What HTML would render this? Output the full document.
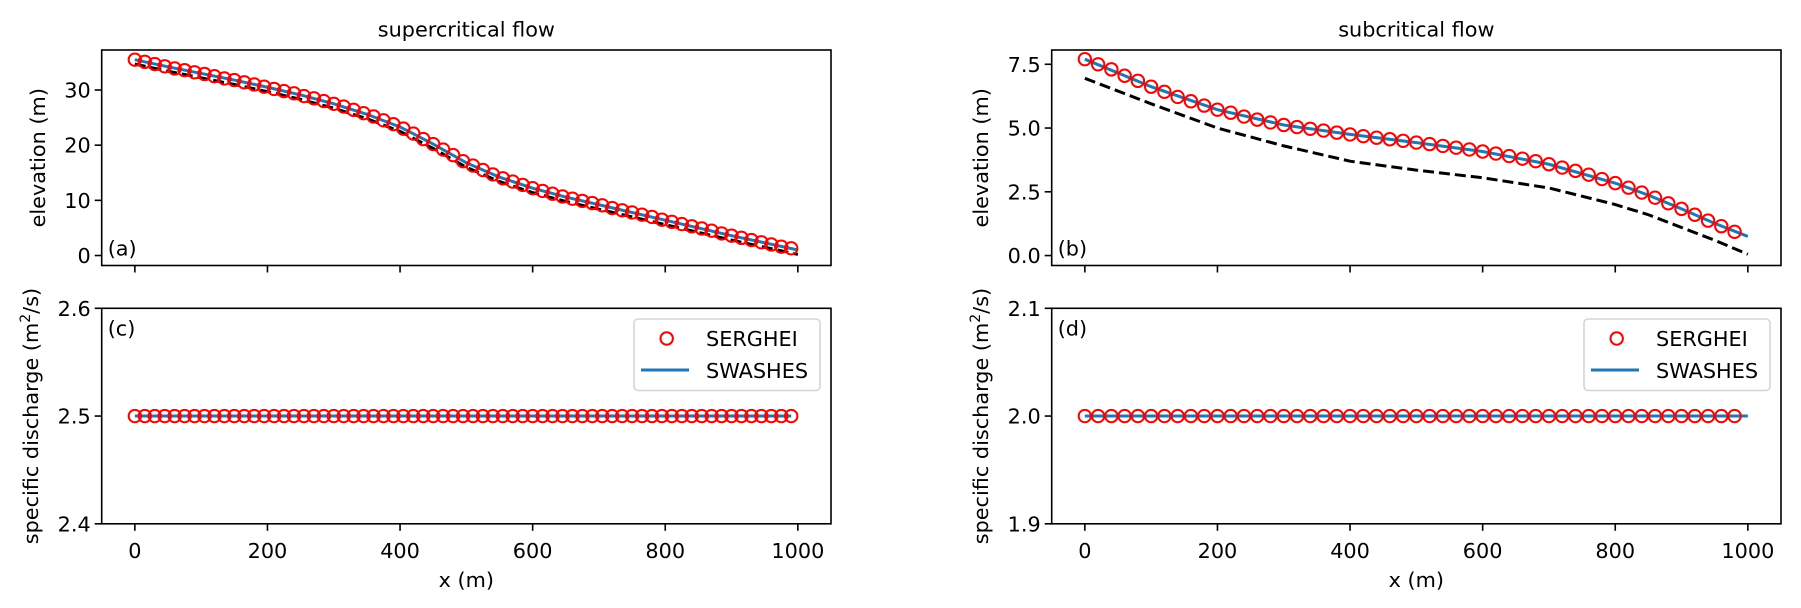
<!DOCTYPE html>
<html><head><meta charset="utf-8"><style>
html,body{margin:0;padding:0;background:#fff;}
svg{display:block;font-family:"DejaVu Sans","Liberation Sans",sans-serif;}
</style></head><body>
<svg id="fig" width="1801" height="608" viewBox="0 0 1801 608" xmlns="http://www.w3.org/2000/svg"></svg>
<script>
// ---- data ----
const superSergheiX = Array.from({length:67},(_,i)=>i*15);
const superSergheiH = [35.5,35.1,34.7,34.3,33.9,33.6,33.2,32.9,32.5,32.1,31.8,31.4,31.0,30.6,30.2,29.8,29.4,28.9,28.5,28.0,27.5,27.0,26.4,25.8,25.2,24.5,23.8,23.0,22.1,21.1,20.2,19.2,18.2,17.1,16.3,15.5,14.7,14.0,13.4,12.8,12.2,11.7,11.2,10.7,10.3,9.9,9.5,9.1,8.6,8.2,7.8,7.4,7.0,6.5,6.1,5.7,5.3,4.9,4.5,4.0,3.6,3.2,2.8,2.4,2.0,1.6,1.3];
const lineX = [0,50,100,150,200,250,300,350,400,450,500,550,600,650,700,750,800,850,900,950,1000];
const superSwashesH = [35.5,34.2,33.0,31.8,30.5,29.1,27.5,25.6,23.3,20.2,16.8,14.2,12.2,10.6,9.2,7.8,6.4,5.0,3.6,2.3,1.0];
const superBed = [34.7,33.4,32.2,31.0,29.7,28.3,26.7,24.8,22.5,19.4,16.0,13.4,11.4,9.8,8.4,7.0,5.6,4.2,2.8,1.5,0.2];
const subSergheiX = Array.from({length:50},(_,i)=>i*20);
const subSergheiH = [7.7,7.5,7.3,7.05,6.85,6.62,6.42,6.22,6.05,5.88,5.72,5.6,5.45,5.33,5.22,5.12,5.04,4.97,4.9,4.82,4.75,4.68,4.62,4.56,4.5,4.43,4.37,4.3,4.23,4.16,4.08,4.0,3.9,3.8,3.7,3.58,3.45,3.32,3.17,3.0,2.84,2.66,2.47,2.27,2.05,1.83,1.6,1.37,1.15,0.93];
const subLineX = [0,100,200,300,400,500,600,700,800,850,900,950,1000];
const subSwashesH = [7.7,6.62,5.72,5.12,4.75,4.43,4.08,3.58,2.84,2.37,1.83,1.26,0.75];
const subBed = [6.95,5.95,5.0,4.3,3.7,3.35,3.05,2.65,2.0,1.6,1.1,0.6,0.05];
const superQ = 2.5, subQ = 2.0;
const xTicks = [0,200,400,600,800,1000];
const yTicksA = [0,10,20,30];
const yTicksB = [0,2.5,5,7.5];
const yTicksB_lbl = ["0.0","2.5","5.0","7.5"];
const yTicksC = [2.4,2.5,2.6];
const yTicksD = [1.9,2.0,2.1];

const NS="http://www.w3.org/2000/svg";
const svg=document.getElementById('fig');
function mk(tag,attrs,parent){const e=document.createElementNS(NS,tag);for(const k in attrs)e.setAttribute(k,attrs[k]);(parent||svg).appendChild(e);return e;}
const MR=6.2, MW=2;

function panel(o){
  const g=mk('g',{});
  
  
  const L=o.left,R=o.left+729.3,T=o.top,B=o.top+215.5;
  const sx=v=>L+(v+50)/1100*(R-L);
  const sy=v=>B-(v-o.ymin)/(o.ymax-o.ymin)*(B-T);
  if(o.bedX){
    const p=mk('polyline',{points:o.bedX.map((x,i)=>sx(x)+','+sy(o.bed[i])).join(' '),fill:'none',stroke:'#000','stroke-width':3,'stroke-dasharray':'11,5'},g);
    
    
  }
  const ln=mk('polyline',{points:o.lineX.map((x,i)=>sx(x)+','+sy(o.lineY[i])).join(' '),fill:'none',stroke:'#1f77b4','stroke-width':3},g);
  
  
  o.mx.forEach((x,i)=>{
    const c=mk('circle',{cx:sx(x),cy:sy(o.my[i]),r:MR,fill:'none',stroke:'#ff0000','stroke-width':MW},g);
    
    
  });
  const f=mk('rect',{x:L,y:T,width:R-L,height:B-T,fill:'none',stroke:'#000','stroke-width':1.6},g);
  
  
  xTicks.forEach(v=>{
    const t=mk('line',{x1:sx(v),x2:sx(v),y1:B,y2:B+7,stroke:'#000','stroke-width':1.6},g);
    
    
    if(o.xlabels){
      const tx=mk('text',{x:sx(v),y:B+34,'font-size':20.8,'text-anchor':'middle'},g);
      tx.textContent=String(v);
      
      
    }
  });
  o.yt.forEach((v,i)=>{
    const t=mk('line',{x1:L-7,x2:L,y1:sy(v),y2:sy(v),stroke:'#000','stroke-width':1.6},g);
    
    
    const tx=mk('text',{x:L-11,y:sy(v)+7.5,'font-size':20.8,'text-anchor':'end'},g);
    tx.textContent=o.ytl?o.ytl[i]:String(v);
    
    
  });
  const pl=mk('text',{x:L+6,y:o.labelTop?T+27:B-10,'font-size':20.8},g);
  pl.textContent=o.label;
  
  
  const yl=mk('text',{x:o.ylx,y:(T+B)/2,'font-size':20.8,'text-anchor':'middle',transform:`rotate(-90 ${o.ylx} ${(T+B)/2})`},g);
  yl.innerHTML=o.ylabel;
  
  
  if(o.title){
    const tt=mk('text',{x:(L+R)/2,y:36.5,'font-size':20.8,'text-anchor':'middle'},g);
    tt.textContent=o.title;
    
    
  }
  if(o.xlabels){
    const xt=mk('text',{x:(L+R)/2,y:B+63,'font-size':20.8,'text-anchor':'middle'},g);
    xt.textContent='x (m)';
    
    
  }
  if(o.legend){
    const lg=mk('g',{},g);
    
    
    const lx=L+532.3;
    mk('rect',{x:lx,y:319,width:186,height:71.5,rx:4,fill:'#fff',stroke:'#d5d5d5','stroke-width':1.6},lg);
    const m=mk('circle',{cx:lx+32.7,cy:338.5,r:MR,fill:'none',stroke:'#ff0000','stroke-width':MW},lg);
    
    
    const t1=mk('text',{x:lx+72,y:346,'font-size':20.8},lg);
    t1.textContent='SERGHEI';
    
    
    mk('line',{x1:lx+7,x2:lx+55,y1:370,y2:370,stroke:'#1f77b4','stroke-width':3},lg);
    const t2=mk('text',{x:lx+72,y:378,'font-size':20.8},lg);
    t2.textContent='SWASHES';
    
    
  }
}
const qLabel='specific discharge (m<tspan baseline-shift="super" font-size="14">2</tspan>/s)';
panel({name:'panel-a-supercritical-elevation',left:101.7,top:50,ymin:-1.81,ymax:37.25,yt:yTicksA,mx:superSergheiX,my:superSergheiH,lineX:lineX,lineY:superSwashesH,bedX:lineX,bed:superBed,label:'(a)',ylabel:'elevation (m)',ylx:45,title:'supercritical flow'});
panel({name:'panel-b-subcritical-elevation',left:1051.7,top:50,ymin:-0.39,ymax:8.06,yt:yTicksB,ytl:yTicksB_lbl,mx:subSergheiX,my:subSergheiH,lineX:subLineX,lineY:subSwashesH,bedX:subLineX,bed:subBed,label:'(b)',ylabel:'elevation (m)',ylx:988,title:'subcritical flow'});
panel({name:'panel-c-supercritical-discharge',left:101.7,top:308.3,ymin:2.4,ymax:2.6,yt:yTicksC,mx:superSergheiX,my:superSergheiX.map(()=>superQ),lineX:[0,990],lineY:[superQ,superQ],label:'(c)',labelTop:true,ylabel:qLabel,ylx:38,xlabels:true,legend:true});
panel({name:'panel-d-subcritical-discharge',left:1051.7,top:308.3,ymin:1.9,ymax:2.1,yt:yTicksD,ytl:["1.9","2.0","2.1"],mx:subSergheiX,my:subSergheiX.map(()=>subQ),lineX:[0,1000],lineY:[subQ,subQ],label:'(d)',labelTop:true,ylabel:qLabel,ylx:988,xlabels:true,legend:true});
</script>
</body></html>
